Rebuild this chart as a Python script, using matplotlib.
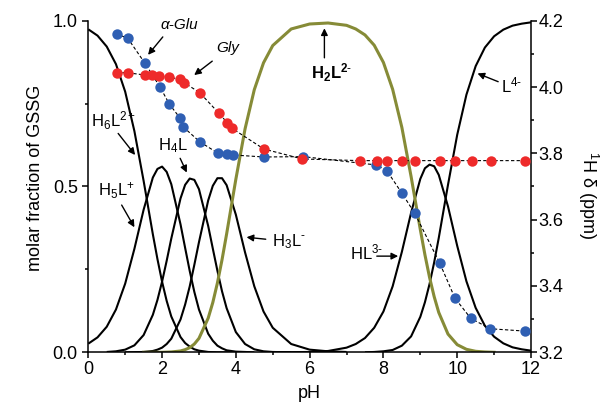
import matplotlib.pyplot as plt
import matplotlib as mpl
from matplotlib.ticker import MultipleLocator

mpl.rcParams.update({
    "font.family": "Liberation Sans",
    "mathtext.fontset": "custom",
    "mathtext.rm": "Liberation Sans",
    "mathtext.it": "Liberation Sans:italic",
    "mathtext.bf": "Liberation Sans:bold",
    "font.size": 13,
    "axes.linewidth": 1.1,
})

# species distribution of GSSG (left axis, molar fraction)
ph_h6 = [0, .25, .5, .75, 1, 1.25, 1.5, 1.75, 1.875, 2, 2.125, 2.25, 2.5, 2.625,
         2.75, 2.875, 3, 3.25, 3.5, 4]
h6 = [.974, .955, .922, .869, .786, .667, .517, .356, .281, .213, .155, .108, .046,
      .028, .017, .009, .005, .001, 0, 0]

ph_h5 = [0, .25, .5, .75, 1, 1.25, 1.5, 1.75, 1.875, 2, 2.125, 2.25, 2.5, 2.625,
         2.75, 2.875, 3, 3.25, 3.375, 3.5, 3.625, 3.75, 4, 4.5]
h5 = [.026, .045, .077, .129, .207, .312, .430, .527, .553, .560, .544, .507, .386,
      .315, .245, .182, .129, .056, .035, .020, .012, .006, .002, 0]

ph_h4 = [.5, .75, 1, 1.25, 1.5, 1.75, 1.875, 2, 2.125, 2.25, 2.5, 2.625, 2.75, 2.875,
         3, 3.25, 3.375, 3.5, 3.625, 3.75, 4, 4.25, 4.5, 4.75, 5, 5.5]
h4 = [.001, .003, .008, .021, .052, .113, .158, .213, .276, .343, .464, .505, .524,
      .520, .492, .381, .313, .246, .184, .133, .061, .025, .009, .003, .001, 0]

ph_h3 = [1, 1.5, 1.75, 1.875, 2, 2.125, 2.25, 2.5, 2.625, 2.75, 2.875, 3, 3.25, 3.375,
         3.5, 3.625, 3.75, 4, 4.25, 4.5, 4.75, 5, 5.5, 6, 6.5, 7]
h3 = [0, .001, .004, .008, .014, .025, .041, .099, .144, .199, .264, .332, .458, .502,
      .525, .525, .504, .415, .301, .199, .123, .074, .025, .008, .003, .001]

ph_h2 = [1.5, 2, 2.25, 2.5, 2.625, 2.75, 2.875, 3, 3.25, 3.375, 3.5, 3.625, 3.75, 4,
         4.25, 4.5, 4.75, 5, 5.5, 6, 6.5, 7, 7.25, 7.5, 7.75, 8, 8.25, 8.5, 8.75, 9,
         9.125, 9.25, 9.375, 9.5, 9.75, 10, 10.25, 10.5, 10.75, 11]
h2 = [0, 0, .001, .004, .008, .014, .025, .042, .103, .150, .209, .279, .357, .522,
      .674, .792, .873, .925, .975, .990, .993, .986, .975, .957, .926, .874, .793,
      .678, .530, .370, .294, .226, .168, .120, .055, .023, .009, .003, .001, 0]

ph_hl = [5, 6, 6.5, 7, 7.25, 7.5, 7.75, 8, 8.25, 8.5, 8.75, 9, 9.125, 9.25, 9.375,
         9.5, 9.75, 10, 10.25, 10.5, 10.75, 11, 11.25, 11.5, 11.75, 12]
hl = [0, .001, .004, .014, .025, .043, .074, .123, .199, .303, .421, .523, .555, .566,
      .561, .535, .440, .321, .214, .134, .080, .047, .027, .015, .009, .005]

ph_l = [7.5, 7.75, 8, 8.25, 8.5, 8.75, 9, 9.125, 9.25, 9.375, 9.5, 9.75, 10, 10.25,
        10.5, 10.75, 11, 11.25, 11.5, 11.75, 12]
l4 = [0, .001, .003, .007, .020, .048, .107, .151, .206, .271, .345, .505, .656, .777,
      .863, .919, .953, .973, .985, .991, .995]

# 1H chemical shifts (right axis, ppm)
ph_glu = [0.77, 1.07, 1.54, 1.94, 2.20, 2.49, 2.57, 3.02, 3.52, 3.75, 3.93, 4.76,
          5.83, 7.80, 8.09, 8.50, 8.85, 9.53, 9.94, 10.37, 10.90, 11.83]
d_glu = [4.160, 4.147, 4.071, 4.001, 3.948, 3.906, 3.880, 3.835, 3.800, 3.798, 3.795,
         3.789, 3.790, 3.765, 3.748, 3.680, 3.619, 3.468, 3.363, 3.302, 3.271, 3.264]

ph_gly = [0.77, 1.07, 1.54, 1.74, 1.93, 2.19, 2.48, 2.60, 3.02, 3.54, 3.77, 3.90, 4.76,
          5.80, 7.37, 7.82, 8.09, 8.51, 8.85, 9.53, 9.94, 10.39, 10.91, 11.83]
d_gly = [4.043, 4.043, 4.036, 4.035, 4.033, 4.029, 4.024, 4.013, 3.983, 3.921, 3.892,
         3.875, 3.813, 3.783, 3.778, 3.778, 3.778, 3.778, 3.778, 3.778, 3.778, 3.778,
         3.778, 3.778]

BLUE, RED, OLIVE = '#2f5fb3', '#ee2a2a', '#868b37'

fig = plt.figure(figsize=(6.03, 4.12), dpi=100)
ax = fig.add_axes([0.1464, 0.1449, 0.7342, 0.8049])
ax2 = ax.twinx()

for xs, ys in [(ph_h6, h6), (ph_h5, h5), (ph_h4, h4), (ph_h3, h3), (ph_hl, hl), (ph_l, l4)]:
    ax.plot(xs, ys, color='black', lw=1.5, solid_capstyle='butt')
ax.plot(ph_h2, h2, color=OLIVE, lw=2.2)

for xs, ys, c in [(ph_glu, d_glu, BLUE), (ph_gly, d_gly, RED)]:
    ax2.plot(xs, ys, color='black', lw=0.8, ls=(0, (3, 2)), zorder=2)
    ax2.plot(xs, ys, 'o', color=c, ms=7.5, mec='none', zorder=3)

ax.set_xlim(0, 12)
ax.set_ylim(0, 1)
ax2.set_ylim(3.2, 4.2)
ax.xaxis.set_major_locator(MultipleLocator(2))
ax.xaxis.set_minor_locator(MultipleLocator(1))
ax.yaxis.set_major_locator(MultipleLocator(0.5))
ax.yaxis.set_minor_locator(MultipleLocator(0.25))
ax2.yaxis.set_major_locator(MultipleLocator(0.2))
ax2.yaxis.set_minor_locator(MultipleLocator(0.1))
ax2.yaxis.set_major_formatter(mpl.ticker.FormatStrFormatter('%.1f'))

for a in (ax, ax2):
    a.spines['top'].set_visible(False)
ax.spines['right'].set_visible(False)
ax2.spines['left'].set_visible(False)
ax2.spines['bottom'].set_visible(False)

ax.tick_params(which='major', length=4, width=1.1, direction='out')
ax.tick_params(which='minor', length=2.5, width=1.1, direction='out')
ax.tick_params(axis='x', pad=2)
ax.tick_params(axis='y', pad=3.5)
ax2.tick_params(which='major', length=4, width=1.1, direction='out', pad=1.5)
ax2.tick_params(which='minor', length=2.5, width=1.1, direction='out')

ax.set_xlabel('pH', labelpad=5)
ax.set_ylabel('molar fraction of GSSG')
ax.yaxis.set_label_coords(-0.099, 0.525)
ax2.set_ylabel('$^{1}$H δ (ppm)', rotation=-90, va='bottom')
ax2.yaxis.set_label_coords(1.101, 0.472)

# species labels and arrows
arrow = dict(arrowstyle='-|>', color='black', lw=1.0, mutation_scale=10,
             shrinkA=0, shrinkB=0)
labels = [
    (r'H$_6$L$^{2+}$', 0.065, 0.697, (0.81, 0.660), (1.27, 0.595)),
    (r'H$_5$L$^{+}$', 0.27, 0.486, (0.905, 0.444), (1.25, 0.377)),
    (r'H$_4$L', 1.90, 0.622, (2.49, 0.585), (2.67, 0.542)),
    (r'H$_3$L$^{\text{-}}$', 4.99, 0.333, (4.81, 0.341), (4.29, 0.347)),
    (r'HL$^{3\text{-}}$', 7.09, 0.301, (7.82, 0.290), (8.40, 0.290)),
    (r'L$^{4\text{-}}$', 11.2, 0.806, (11.11, 0.816), (10.55, 0.841)),
]
for txt, tx, ty, tail, head in labels:
    ax.text(tx, ty, txt, fontsize=12, ha='left', va='center')
    ax.annotate('', xy=head, xytext=tail, arrowprops=arrow)

ax.text(6.05, 0.844, r'H$_\mathbf{2}$L$^{\mathbf{2}\text{-}}$', fontsize=12,
        fontweight='bold', ha='left', va='center')
ax.annotate('', xy=(6.40, 0.977), xytext=(6.40, 0.888), arrowprops=arrow)

ax.text(2.46, 0.987, 'α-Glu', fontsize=11, style='italic', ha='center', va='center')
ax.annotate('', xy=(1.62, 0.897), xytext=(2.02, 0.951), arrowprops=arrow)
ax.text(3.79, 0.918, 'Gly', fontsize=11, style='italic', ha='center', va='center')
ax.annotate('', xy=(2.87, 0.836), xytext=(3.36, 0.878), arrowprops=arrow)

fig.savefig('out.png', dpi=100)
